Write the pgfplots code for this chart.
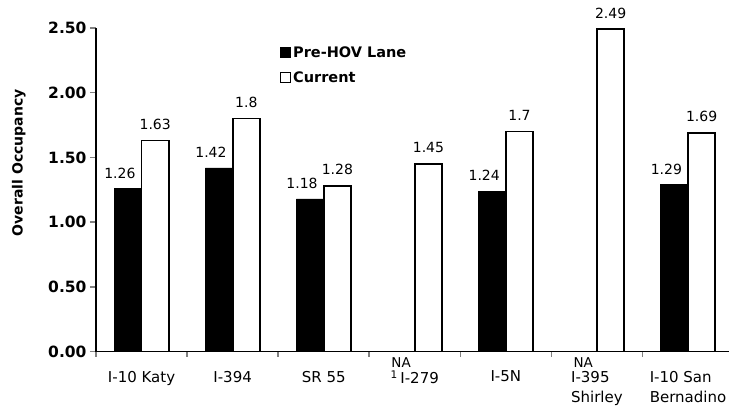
\documentclass[border=0pt]{standalone}
\usepackage{fontspec}
\setmainfont{DejaVu Sans}
\usepackage{pgfplots}
\pgfplotsset{compat=1.18}
\usetikzlibrary{calc}
\begin{document}
\begin{tikzpicture}
\begin{axis}[
  scale only axis,
  clip=false,
  width=633bp, height=323.5bp,
  xmin=-0.5, xmax=6.45,
  ymin=0, ymax=2.5,
  axis lines=left,
  axis line style={-, line width=1.8bp},
  ybar=0pt, bar width=0.3,
  tick align=outside,
  xtick={0,...,6},
  xticklabels={I-10 Katy, I-394, SR 55, {\textsuperscript{1}\,I-279}, I-5N, {I-395\\Shirley}, {I-10 San\\Bernadino}},
  xticklabel style={align=left, font=\fontsize{15bp}{20bp}\selectfont, yshift=-10bp},
  major x tick style={draw=none},
  minor xtick={-0.5,0.5,1.5,2.5,3.5,4.5,5.5},
  minor tick length=5bp,
  minor x tick style={line width=1.5bp},
  ytick={0,0.5,1,1.5,2,2.5},
  major tick length=6bp,
  major y tick style={line width=1.5bp},
  yticklabel style={/pgf/number format/fixed, /pgf/number format/fixed zerofill, /pgf/number format/precision=2, /pgf/number format/assume math mode=true, font=\bfseries\fontsize{15.5bp}{18bp}\selectfont},
  ylabel={Overall Occupancy},
  ylabel style={at={(axis description cs:-0.122,0.583)}, anchor=center, font=\bfseries\fontsize{14bp}{17bp}\selectfont},
  nodes near coords,
  point meta=explicit symbolic,
  nodes near coords style={font=\fontsize{14bp}{17bp}\selectfont, anchor=south, inner sep=0pt, yshift=10bp},
  legend style={draw=none, fill=none, at={(rel axis cs:0.29,0.95)}, anchor=north west, font=\bfseries\fontsize{14.5bp}{17bp}\selectfont, row sep=9bp, inner sep=0pt},
  legend cell align=left,
]
\coordinate (O) at (rel axis cs:0,0);
\addplot[fill=black, draw=black, every node near coord/.append style={xshift=-8bp},
  legend image code/.code={\draw[fill=black,draw=black] (0bp,-5bp) rectangle (10bp,5bp);}]
  coordinates {(0,1.26)[1.26] (1,1.42)[1.42] (2,1.18)[1.18] (4,1.24)[1.24] (6,1.29)[1.29]};
\addplot[fill=white, draw=black, line width=1.8bp,
  legend image code/.code={\draw[fill=white,draw=black,line width=1.4bp] (0bp,-5bp) rectangle (10bp,5bp);}]
  coordinates {(0,1.63)[1.63] (1,1.8)[1.8] (2,1.28)[1.28] (3,1.45)[1.45] (4,1.7)[1.7] (5,2.49)[2.49] (6,1.69)[1.69]};
\legend{Pre-HOV Lane, Current}
\node[font=\fontsize{13.5bp}{14bp}\selectfont, anchor=north, inner sep=0pt] at (axis cs:2.85,0) [yshift=-6bp] {NA};
\node[font=\fontsize{13.5bp}{14bp}\selectfont, anchor=north, inner sep=0pt] at (axis cs:4.85,0) [yshift=-6bp] {NA};
\end{axis}
\pgfresetboundingbox
\path ($(O)+(-96bp,-62.5bp)$) rectangle ($(O)+(633bp,351.5bp)$);
\end{tikzpicture}
\end{document}
